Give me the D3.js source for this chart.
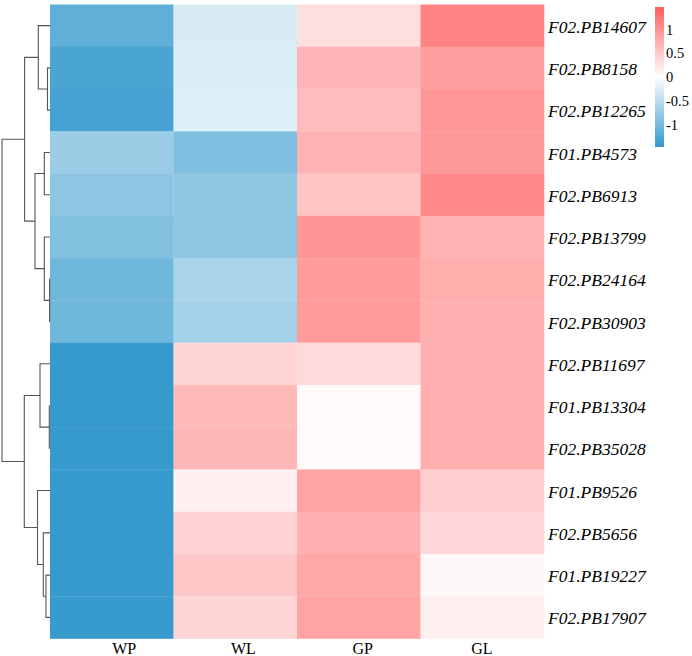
<!DOCTYPE html>
<html lang="en">
	<head>
		<meta charset="utf-8">
		<title>D3: Clustered heatmap</title>
		<script type="text/javascript" src="https://cdn.jsdelivr.net/npm/d3@7/dist/d3.min.js"></script>
		<style type="text/css">
			body { margin: 0; background: #fff; }
			text { font-family: "Liberation Serif", "Times New Roman", serif; fill: #000; }
		</style>
	</head>
	<body>
		<script type="text/javascript">

			//Width and height
			var w = 692;
			var h = 656;

			//Columns (samples) and rows (genes), top to bottom
			var columns = ["WP", "WL", "GP", "GL"];
			var rows = ["F02.PB14607", "F02.PB8158", "F02.PB12265", "F01.PB4573", "F02.PB6913",
						"F02.PB13799", "F02.PB24164", "F02.PB30903", "F02.PB11697", "F01.PB13304",
						"F02.PB35028", "F01.PB9526", "F02.PB5656", "F01.PB19227", "F02.PB17907"];

			//Row-scaled values, one array per column (same order as rows)
			var valuesWP = [-1.15, -1.30, -1.33, -0.72, -0.82, -0.91, -1.04, -1.04, -1.45, -1.45, -1.45, -1.45, -1.45, -1.45, -1.44];
			var valuesWL = [-0.28, -0.26, -0.23, -0.92, -0.81, -0.81, -0.63, -0.66,  0.38,  0.63,  0.67,  0.13,  0.40,  0.50,  0.37];
			var valuesGP = [ 0.30,  0.68,  0.61,  0.70,  0.54,  0.96,  0.90,  0.91,  0.34,  0.05,  0.05,  0.84,  0.72,  0.79,  0.84];
			var valuesGL = [ 1.13,  0.88,  0.95,  0.94,  1.08,  0.69,  0.74,  0.72,  0.73,  0.73,  0.73,  0.44,  0.35,  0.06,  0.15];

			//Row dendrogram, hclust style: negative = leaf (1-based row), positive = earlier step
			var merges = [
				[-2, -3, 0.25],
				[-1, 1, 1.17],
				[-7, -8, 0.04],
				[-6, 3, 0.57],
				[-4, -5, 0.57],
				[5, 4, 1.50],
				[2, 6, 2.54],
				[-10, -11, 0.07],
				[-9, 8, 1.00],
				[-14, -15, 0.40],
				[-13, 10, 0.67],
				[-12, 11, 1.25],
				[9, 12, 2.57],
				[7, 13, 4.80]
			];

			//Legend ticks
			var legendTicks = [-1, -0.5, 0, 0.5, 1];
			var legendRange = [-1.47, 1.47];

			var valueColumns = [valuesWP, valuesWL, valuesGP, valuesGL];
			var cells = [];
			columns.forEach(function(c, j) {
				rows.forEach(function(r, i) {
					cells.push({ row: r, col: c, value: valueColumns[j][i] });
				});
			});

			//Scales
			var xScale = d3.scaleBand().domain(columns).range([50, 544]);
			//column names sit a little to the right of the cells in the original
			var xLabelScale = d3.scaleBand().domain(columns).range([64.5, 541.5]);
			var yScale = d3.scaleBand().domain(rows).range([4.5, 638.5]);
			var colorScale = d3.scaleLinear()
							.domain([legendRange[0], 0, legendRange[1]])
							.range(["#3399CC", "#FFFFFF", "#FF5E5E"]);
			var hScale = d3.scaleLinear()
							.domain([0, d3.max(merges, function(m) { return m[2]; })])
							.range([50, 2]);

			var svg = d3.select("body")
						.append("svg")
						.attr("width", w)
						.attr("height", h);

			//Heatmap cells
			svg.append("g")
				.selectAll("rect")
				.data(cells)
				.enter()
				.append("rect")
				.attr("x", function(d) { return xScale(d.col); })
				.attr("y", function(d) { return yScale(d.row); })
				.attr("width", xScale.bandwidth() + 0.3)
				.attr("height", yScale.bandwidth() + 0.3)
				.attr("fill", function(d) { return colorScale(d.value); });

			//Dendrogram: work out node positions, then draw elbows
			var nodes = [];
			var nodePos = function(id) {
				if (id < 0) {
					return { x: hScale(0), y: yScale(rows[-id - 1]) + yScale.bandwidth() / 2 };
				}
				return nodes[id - 1];
			};
			var segments = [];
			merges.forEach(function(m) {
				var a = nodePos(m[0]), b = nodePos(m[1]);
				var x = hScale(m[2]);
				segments.push([[a.x, a.y], [x, a.y], [x, b.y], [b.x, b.y]]);
				nodes.push({ x: x, y: (a.y + b.y) / 2 });
			});

			svg.append("g")
				.selectAll("path")
				.data(segments)
				.enter()
				.append("path")
				.attr("d", d3.line())
				.attr("fill", "none")
				.attr("stroke", "#555")
				.attr("stroke-width", 1.1);

			//Row labels
			var rowAxis = svg.append("g")
				.attr("transform", "translate(548,1.5)")
				.call(d3.axisRight(yScale).tickSize(0).tickPadding(0));
			rowAxis.select(".domain").remove();
			rowAxis.selectAll("text")
				.attr("font-family", null)
				.attr("font-size", "17.5px")
				.attr("font-style", "italic");

			//Column labels
			var colAxis = svg.append("g")
				.attr("transform", "translate(0,639)")
				.call(d3.axisBottom(xLabelScale).tickSize(0).tickPadding(3.5));
			colAxis.select(".domain").remove();
			colAxis.selectAll("text")
				.attr("font-family", null)
				.attr("font-size", "16px");

			//Colour legend
			var legendScale = d3.scaleLinear().domain(legendRange).range([147, 7]);
			var defs = svg.append("defs");
			var grad = defs.append("linearGradient")
				.attr("id", "legendGrad")
				.attr("x1", "0").attr("y1", "1")
				.attr("x2", "0").attr("y2", "0");
			grad.selectAll("stop")
				.data(colorScale.domain())
				.enter()
				.append("stop")
				.attr("offset", function(d) { return (d - legendRange[0]) / (legendRange[1] - legendRange[0]); })
				.attr("stop-color", function(d) { return colorScale(d); });

			svg.append("rect")
				.attr("x", 655)
				.attr("y", legendScale(legendRange[1]))
				.attr("width", 9)
				.attr("height", legendScale(legendRange[0]) - legendScale(legendRange[1]))
				.attr("fill", "url(#legendGrad)");

			var legendAxis = svg.append("g")
				.attr("transform", "translate(666,0)")
				.call(d3.axisRight(legendScale)
						.tickValues(legendTicks)
						.tickSize(0)
						.tickPadding(0)
						.tickFormat(function(d) { return String(d); }));
			legendAxis.select(".domain").remove();
			legendAxis.selectAll("text")
				.attr("font-family", null)
				.attr("font-size", "14.5px");

		</script>
	</body>
</html>
